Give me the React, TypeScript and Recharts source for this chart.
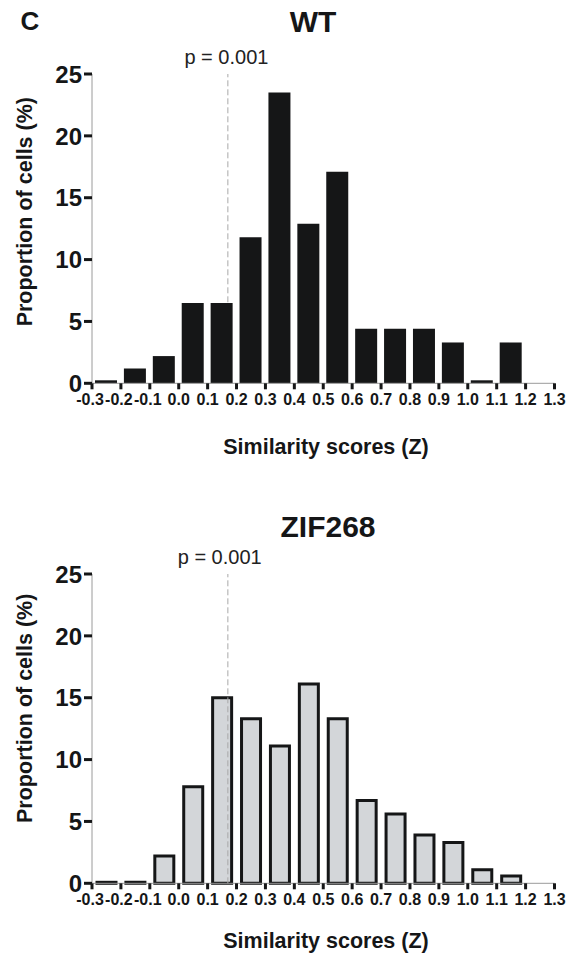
import React from 'react';
import { BarChart, Bar, XAxis, YAxis, ReferenceLine } from 'recharts';

// ---- data ----
const binCenters = [-0.25, -0.15, -0.05, 0.05, 0.15, 0.25, 0.35, 0.45, 0.55, 0.65, 0.75, 0.85, 0.95, 1.05, 1.15];
const wtValues = [0, 1.2, 2.2, 6.5, 6.5, 11.8, 23.5, 12.9, 17.1, 4.4, 4.4, 4.4, 3.3, 0, 3.3];
const zifValues = [0, 0, 2.2, 7.8, 15.0, 13.3, 11.1, 16.1, 13.3, 6.7, 5.6, 3.9, 3.3, 1.1, 0.6];
const xTicks = [-0.3, -0.2, -0.1, 0.0, 0.1, 0.2, 0.3, 0.4, 0.5, 0.6, 0.7, 0.8, 0.9, 1.0, 1.1, 1.2, 1.3];
const yTicks = [0, 5, 10, 15, 20, 25];
const pThreshold = 0.17;
const pLabel = 'p = 0.001';
const titles = ['WT', 'ZIF268'];
const panelLetter = 'C';
const xTitle = 'Similarity scores (Z)';
const yTitle = 'Proportion of cells (%)';

const FONT = '"Liberation Sans", Arial, Helvetica, sans-serif';
const INK = '#151617';

const XTick = (props: any) => {
  const { x, y, payload } = props;
  const v = Number(payload.value);
  return (
    <text x={v < 0 ? x - 2 : x} y={y} dy="0.71em" textAnchor="middle" fontSize={16} fontWeight={700} fill={INK} fontFamily={FONT}>
      {v.toFixed(1)}
    </text>
  );
};

const YTick = (props: any) => {
  const { x, y, payload } = props;
  return (
    <text x={x} y={y} dy="0.36em" textAnchor="end" fontSize={24} fontWeight={700} fill={INK} fontFamily={FONT}>
      {payload.value}
    </text>
  );
};

type HistProps = {
  values: number[];
  fill: string;
  stroke?: string;
  strokeWidth?: number;
  barSize: number;
  minPointSize: number;
  refOnTop: boolean;
};

function Histogram({ values, fill, stroke, strokeWidth, barSize, minPointSize, refOnTop }: HistProps) {
  const data = binCenters.map((x, i) => ({ x, v: values[i] }));
  const refLine = (
    <ReferenceLine
      x={pThreshold}
      stroke="#a8a8a8"
      strokeWidth={1}
      strokeDasharray="6 3"
      zIndex={refOnTop ? 600 : 0}
    />
  );
  return (
    <BarChart
      width={575}
      height={490}
      data={data}
      margin={{ top: 74, right: 20.5, bottom: 76.7, left: 12 }}
    >
      <XAxis
        type="number"
        dataKey="x"
        domain={[-0.3, 1.3]}
        ticks={xTicks}
        interval={0}
        allowDataOverflow
        height={30}
        axisLine={{ stroke: '#9a9a9a', strokeWidth: 1 }}
        tickLine={{ stroke: INK, strokeWidth: 3 }}
        tickSize={6}
        tickMargin={4}
        tick={<XTick />}
      />
      <YAxis
        type="number"
        domain={[0, 25]}
        ticks={yTicks}
        interval={0}
        width={80}
        axisLine={{ stroke: '#9a9a9a', strokeWidth: 1 }}
        tickLine={{ stroke: INK, strokeWidth: 3 }}
        tickSize={8}
        tickMargin={2}
        tick={<YTick />}
      />
      {!refOnTop && refLine}
      <Bar
        dataKey="v"
        fill={fill}
        stroke={stroke}
        strokeWidth={strokeWidth}
        barSize={barSize}
        minPointSize={minPointSize}
        isAnimationActive={false}
      />
      {refOnTop && refLine}
    </BarChart>
  );
}

export default function App() {
  return (
    <div style={{ position: 'absolute', left: 0, top: 0, width: 575, height: 957, background: '#fff', fontFamily: FONT }}>
      <div style={{ position: 'absolute', left: 0, top: 0 }}>
        <Histogram values={wtValues} fill={INK} barSize={22} minPointSize={3} refOnTop={false} />
      </div>
      <div style={{ position: 'absolute', left: 0, top: 500 }}>
        <Histogram
          values={zifValues}
          fill="#d3d6d9"
          stroke={INK}
          strokeWidth={3}
          barSize={19}
          minPointSize={1}
          refOnTop={true}
        />
      </div>
      <svg
        width={575}
        height={957}
        style={{ position: 'absolute', left: 0, top: 0, pointerEvents: 'none' }}
      >
        <text x={20.5} y={29.5} fontSize={26} fontWeight={700} fill={INK} fontFamily={FONT}>{panelLetter}</text>
        <text x={313} y={32} textAnchor="middle" fontSize={30} fontWeight={700} fill={INK} fontFamily={FONT}>{titles[0]}</text>
        <text x={328} y={537} textAnchor="middle" fontSize={30} fontWeight={700} fill={INK} fontFamily={FONT}>{titles[1]}</text>
        <text x={226.4} y={63.5} textAnchor="middle" fontSize={20} fill="#222" fontFamily={FONT}>{pLabel}</text>
        <text x={219.7} y={563.5} textAnchor="middle" fontSize={20} fill="#222" fontFamily={FONT}>{pLabel}</text>
        <text x={326} y={454} textAnchor="middle" fontSize={21.5} fontWeight={700} fill={INK} fontFamily={FONT}>{xTitle}</text>
        <text x={326} y={948} textAnchor="middle" fontSize={21.5} fontWeight={700} fill={INK} fontFamily={FONT}>{xTitle}</text>
        <text x={31.7} y={211.7} transform="rotate(-90 31.7 211.7)" textAnchor="middle" fontSize={21.5} fontWeight={700} fill={INK} fontFamily={FONT}>{yTitle}</text>
        <text x={31.7} y={708.3} transform="rotate(-90 31.7 708.3)" textAnchor="middle" fontSize={21.5} fontWeight={700} fill={INK} fontFamily={FONT}>{yTitle}</text>
      </svg>
    </div>
  );
}
